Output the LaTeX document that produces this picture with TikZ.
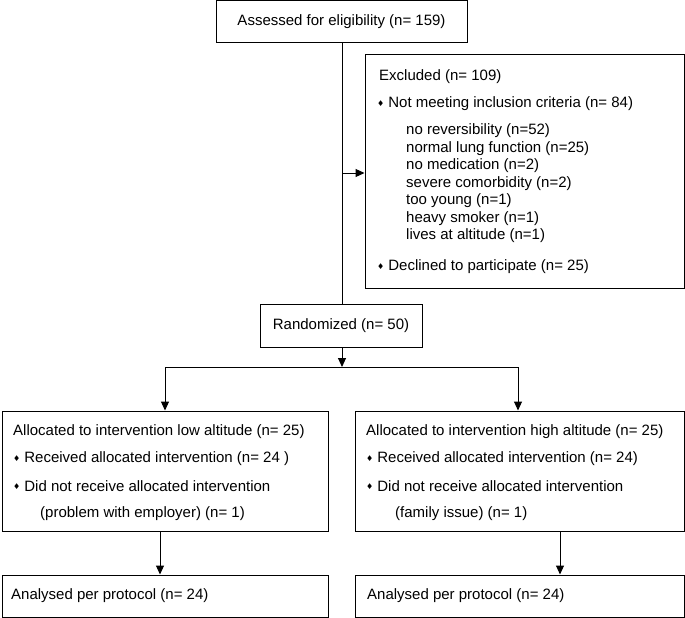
\documentclass[tikz,border=0pt]{standalone}
\usepackage{fontspec}
\setmainfont{Liberation Sans}
\newfontfamily\symfont{DejaVu Sans}
\usetikzlibrary{arrows.meta}
\newcommand{\bul}{{\symfont\fontsize{8}{8}\selectfont\raisebox{1.5pt}{♦}}\hspace{4pt}}
\begin{document}
\begin{tikzpicture}[x=1pt,y=-1pt,
  box/.style={draw,line width=1pt,rectangle,inner sep=0pt},
  txt/.style={inner sep=0pt,anchor=west,font=\fontsize{15}{18}\selectfont},
  ctxt/.style={inner sep=0pt,font=\fontsize{15}{18}\selectfont},
  conn/.style={line width=1pt},
  arr/.style={line width=1pt,-{Triangle[length=9pt,width=8pt]}}]
\useasboundingbox (0,0) rectangle (685,618);
% boxes
\node[box,minimum width=251pt,minimum height=42.5pt] (assess) at (341.5,21.5) {};
\node[box,minimum width=319pt,minimum height=233pt] (excl) at (524.5,171.5) {};
\node[box,minimum width=162pt,minimum height=43pt] (rand) at (341,325.5) {};
\node[box,minimum width=326pt,minimum height=120pt] (allocL) at (165,471) {};
\node[box,minimum width=329pt,minimum height=120pt] (allocR) at (520,471) {};
\node[box,minimum width=326pt,minimum height=42pt] (anaL) at (165,596) {};
\node[box,minimum width=329pt,minimum height=42pt] (anaR) at (520,596) {};
% texts
\node[ctxt] (tassess) at (assess) {Assessed for eligibility (n= 159)};
\node[txt] (e0) at (379,77) {Excluded (n= 109)};
\node[txt] (e1) at (377,104) {\bul Not meeting inclusion criteria (n= 84)};
\node[txt] (e2) at (406,131) {no reversibility (n=52)};
\node[txt] (e3) at (406,149) {normal lung function (n=25)};
\node[txt] (e4) at (406,166) {no medication (n=2)};
\node[txt] (e5) at (406,184) {severe comorbidity (n=2)};
\node[txt] (e6) at (406,201) {too young (n=1)};
\node[txt] (e7) at (406,219) {heavy smoker (n=1)};
\node[txt] (e8) at (406,236) {lives at altitude (n=1)};
\node[txt] (e9) at (377,267) {\bul Declined to participate (n= 25)};
\node[ctxt] (trand) at (rand) {Randomized (n= 50)};
\node[txt] (l0) at (13,432) {Allocated to intervention low altitude (n= 25)};
\node[txt] (l1) at (13,459) {\bul Received allocated intervention (n= 24 )};
\node[txt] (l2) at (13,486) {\bul Did not receive allocated intervention};
\node[txt] (l3) at (40,514) {(problem with employer) (n= 1)};
\node[txt] (r0) at (366,432) {Allocated to intervention high altitude (n= 25)};
\node[txt] (r1) at (366,459) {\bul Received allocated intervention (n= 24)};
\node[txt] (r2) at (366,486) {\bul Did not receive allocated intervention};
\node[txt] (r3) at (395,514) {(family issue) (n= 1)};
\node[txt] (al) at (11,596) {Analysed per protocol (n= 24)};
\node[txt] (ar) at (367,596) {Analysed per protocol (n= 24)};
% connectors
\coordinate (branch) at (342,173);
\coordinate (split) at (342,367);
\coordinate (sl) at (165,367);
\coordinate (sr) at (518,367);
\draw[conn] (assess.south -| branch) -- (rand.north -| branch);
\draw[arr] (branch) -- (branch -| excl.west);
\draw[arr] (rand.south -| split) -- (split);
\draw[conn] (sl) -- (sr);
\draw[arr] (sl) -- (sl |- allocL.north);
\draw[arr] (sr) -- (sr |- allocR.north);
\draw[arr] (allocL.south -| 160,0) -- (anaL.north -| 160,0);
\draw[arr] (allocR.south -| 560,0) -- (anaR.north -| 560,0);
\end{tikzpicture}
\end{document}
